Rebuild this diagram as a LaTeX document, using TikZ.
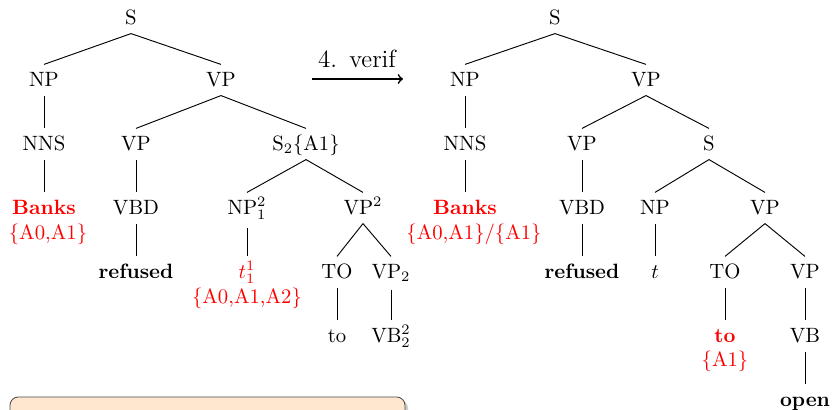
\documentclass[tikz,border=0pt]{standalone}
\usetikzlibrary{shadows}
\definecolor{peach}{RGB}{255,230,206}
\begin{document}
\begin{tikzpicture}[x=0.483pt,y=-0.483pt,
  tn/.style={text height=7pt,text depth=1pt,inner sep=0.333em},
  ann/.style={text=red,inner sep=0pt},
  br/.style={line width=0.45pt},
  every node/.style={font=\normalsize}]
\useasboundingbox (0,0) rectangle (832,410);
\clip (0,0) rectangle (832,410);

% ---------- left tree ----------
\node[tn] (lS) at (131,18) {S};
\node[tn] (lNP) at (44,80) {NP};
\node[tn] (lVP) at (221,80) {VP};
\node[tn] (lNNS) at (44,144) {NNS};
\node[tn] (lVPb) at (136,144) {VP};
\node[tn] (lS2) at (306,144) {S$_2$\{A1\}};
\node[tn,text=red] (lBanks) at (44,208) {\textbf{Banks}};
\node[ann] (lBanksA) at (48,234) {\{A0,A1\}};
\node[tn] (lVBD) at (136,208) {VBD};
\node[tn] (lNP21) at (247,208) {NP$^2_1$};
\node[tn] (lVP2) at (363,208) {VP$^2$};
\node[tn] (lref) at (136,272) {\textbf{refused}};
\node[tn,text=red] (lt) at (247,272) {$t^1_1$};
\node[ann] (ltA) at (247,298) {\{A0,A1,A2\}};
\node[tn] (lTO) at (337,272) {TO};
\node[tn] (lVPs) at (391,272) {VP$_2$};
\node[tn] (lto) at (337,336) {to};
\node[tn] (lVB) at (391,336) {VB$^2_2$};

\draw[br] (lS.south) -- (lNP.north);
\draw[br] (lS.south) -- (lVP.north);
\draw[br] (lNP.south) -- (lNNS.north);
\draw[br] (lVP.south) -- (lVPb.north);
\draw[br] (lVP.south) -- (lS2.north);
\draw[br] (lNNS.south) -- (lBanks.north);
\draw[br] (lVPb.south) -- (lVBD.north);
\draw[br] (lS2.south) -- (lNP21.north);
\draw[br] (lS2.south) -- (lVP2.north);
\draw[br] (lVBD.south) -- (lref.north);
\draw[br] ([yshift=-2pt]lNP21.south) -- (lt.north);
\draw[br] (lVP2.south) -- (lTO.north);
\draw[br] (lVP2.south) -- (lVPs.north);
\draw[br] (lTO.south) -- (lto.north);
\draw[br] ([yshift=-1pt]lVPs.south) -- (lVB.north);

% ---------- arrow ----------
\coordinate (arS) at (312,79);
\coordinate (arE) at (403,79);
\draw[->,thick] (arS) -- (arE);
\node[inner sep=0pt,font=\large] (arL) at (357,59) {4.\,~verif};

% ---------- right tree ----------
\node[tn] (rS) at (555,18) {S};
\node[tn] (rNP) at (465,80) {NP};
\node[tn] (rVP) at (646,80) {VP};
\node[tn] (rNNS) at (465,144) {NNS};
\node[tn] (rVPb) at (582,144) {VP};
\node[tn] (rSb) at (709,144) {S};
\node[tn,text=red] (rBanks) at (465,208) {\textbf{Banks}};
\node[ann] (rBanksA) at (474,234) {\{A0,A1\}/\{A1\}};
\node[tn] (rVBD) at (582,208) {VBD};
\node[tn] (rNPb) at (655,208) {NP};
\node[tn] (rVPc) at (765,208) {VP};
\node[tn] (rref) at (582,272) {\textbf{refused}};
\node[tn] (rt) at (655,272) {$t$};
\node[tn] (rTO) at (725,272) {TO};
\node[tn] (rVPd) at (805,272) {VP};
\node[tn,text=red] (rto) at (725,336) {\textbf{to}};
\node[ann] (rtoA) at (725,361) {\{A1\}};
\node[tn] (rVB) at (805,336) {VB};
\node[tn] (ropen) at (805,400) {\textbf{open}};

\draw[br] (rS.south) -- (rNP.north);
\draw[br] (rS.south) -- (rVP.north);
\draw[br] (rNP.south) -- (rNNS.north);
\draw[br] (rVP.south) -- (rVPb.north);
\draw[br] (rVP.south) -- (rSb.north);
\draw[br] (rNNS.south) -- (rBanks.north);
\draw[br] (rVPb.south) -- (rVBD.north);
\draw[br] (rSb.south) -- (rNPb.north);
\draw[br] (rSb.south) -- (rVPc.north);
\draw[br] (rVBD.south) -- (rref.north);
\draw[br] (rNPb.south) -- (rt.north);
\draw[br] (rVPc.south) -- (rTO.north);
\draw[br] (rVPc.south) -- (rVPd.north);
\draw[br] (rTO.south) -- (rto.north);
\draw[br] (rVPd.south) -- (rVB.north);
\draw[br] (rVB.south) -- (ropen.north);

% ---------- cut-off box ----------
\draw[rounded corners=4pt,fill=peach,draw=black!70,
      drop shadow={shadow xshift=1.5pt,shadow yshift=-1.5pt,fill=black!40}]
  (10,397) rectangle (405,450);
\end{tikzpicture}
\end{document}
